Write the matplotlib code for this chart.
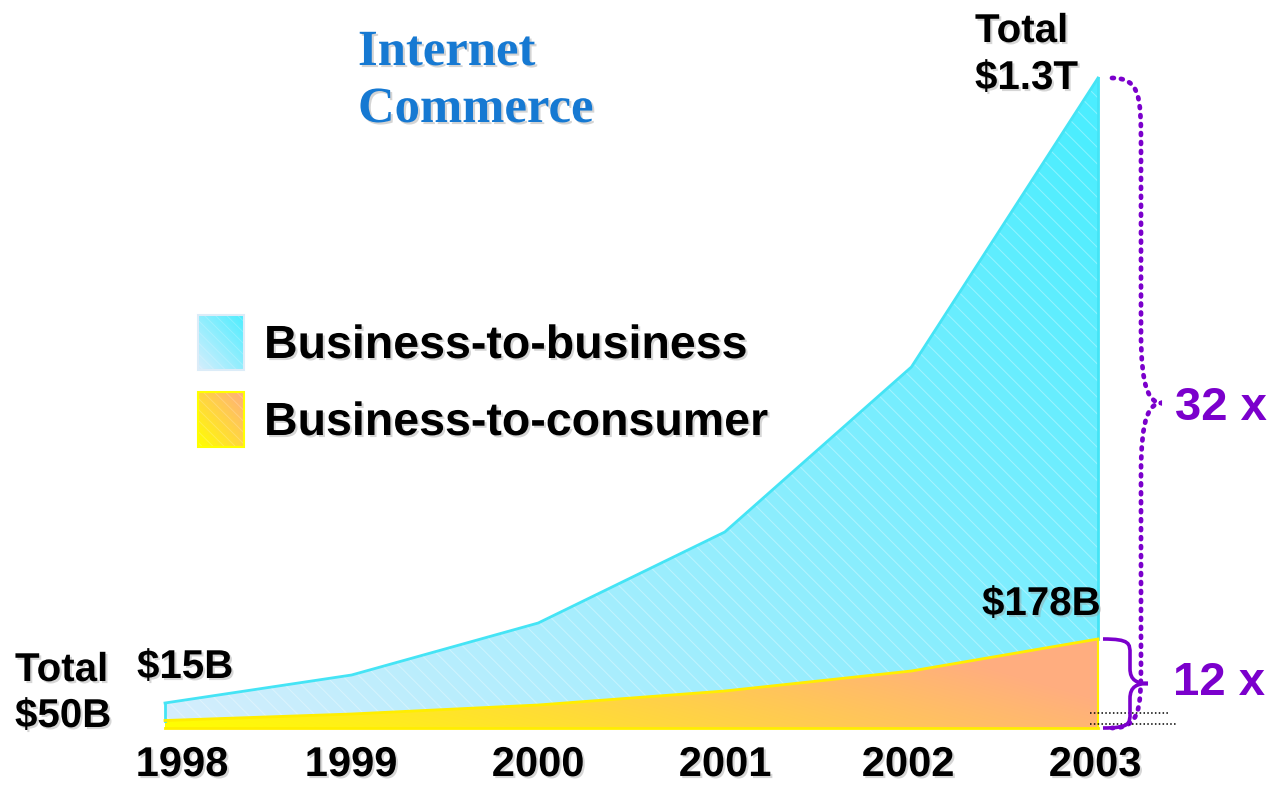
import numpy as np
import matplotlib.pyplot as plt
import matplotlib.patheffects as pe
from matplotlib.path import Path
from matplotlib.patches import PathPatch, Rectangle

# Internet commerce, $ billions
years = [1998, 1999, 2000, 2001, 2002, 2003]
total = [50, 106, 210, 392, 722, 1300]
b2c = [15, 28, 46, 74, 114, 178]
year_labels = ["1998", "1999", "2000", "2001", "2002", "2003"]
growth_b2b = "32 x"
growth_b2c = "12 x"

W, H = 1287, 787
X0, PX_YR = 165, 186.6     # pixel of 1998, pixels per year
Y0, PX_B = 728, 0.5        # baseline pixel, pixels per $B

PURPLE = "#7b00cc"
plt.rcParams['hatch.linewidth'] = 0.7
plt.rcParams['font.family'] = ['Liberation Sans', 'DejaVu Sans']

fig = plt.figure(figsize=(W / 100, H / 100), dpi=100)
ax = fig.add_axes([0, 0, 1, 1])
ax.set_xlim(1998 - X0 / PX_YR, 1998 + (W - X0) / PX_YR)
ax.set_ylim(-(H - Y0) / PX_B, Y0 / PX_B)
ax.axis("off")


def px(xp, yp):
    return 1998 + (xp - X0) / PX_YR, (Y0 - yp) / PX_B


def gradient(c0, c1, wx, wy, n=300):
    u, v = np.meshgrid(np.linspace(0, 1, n), np.linspace(0, 1, n))
    t = np.clip(wx * u + wy * v, 0, 1)[..., None]
    return (1 - t) * np.array(c0) + t * np.array(c1)


def gradient_fill(poly, img, extent, z):
    im = ax.imshow(img, extent=extent, origin="lower", aspect="auto",
                   interpolation="bilinear", zorder=z)
    im.set_clip_path(poly.get_paths()[0], transform=ax.transData)


shadow = [pe.SimplePatchShadow(offset=(1.5, -1.5), shadow_rgbFace="#999999", alpha=0.4),
          pe.Normal()]

b2b_pale, b2b_cyan = (0.84, 0.93, 0.99), (0.30, 0.93, 1.0)
b2c_yel, b2c_org = (1.0, 1.0, 0.0), (1.0, 0.68, 0.50)

# business-to-business band (stacked on top of b2c)
p1 = ax.fill_between(years, b2c, total, facecolor="none", linewidth=0)
gradient_fill(p1, gradient(b2b_pale, b2b_cyan, 0.6, 0.45), [1998, 2003, 0, max(total)], 1)
ax.fill_between(years, b2c, total, facecolor="none", edgecolor=(1, 1, 1, 0.35),
                hatch="\\\\", linewidth=0, zorder=2)

# business-to-consumer band
p2 = ax.fill_between(years, 0, b2c, facecolor="none", linewidth=0)
gradient_fill(p2, gradient(b2c_yel, b2c_org, 0.9, 0.3), [1998, 2003, 0, max(b2c)], 1)

ax.plot(years, total, color="#45e4f5", lw=2, zorder=3)
ax.plot([years[0]] * 2, [b2c[0], total[0]], color="#45e4f5", lw=2, zorder=3)
ax.plot([years[-1]] * 2, [b2c[-1], total[-1]], color="#45e4f5", lw=2, zorder=3)
ax.plot(years, b2c, color="#ffee00", lw=2, zorder=3)
ax.plot([years[0], years[-1]], [0, 0], color="#ffee00", lw=2, zorder=3)
ax.plot([years[-1]] * 2, [0, b2c[-1]], color="#ffee00", lw=1.5, zorder=3)


def brace(x0, xs, xt, y0, y1, d):
    ym = (y0 + y1) / 2
    verts = [(x0, y1),
             (xs, y1), (xs, y1 - 0.3 * d), (xs, y1 - d),
             (xs, ym + d),
             (xs, ym + 0.2 * d), (xs + 0.4 * (xt - xs), ym), (xt, ym),
             (xs + 0.4 * (xt - xs), ym), (xs, ym - 0.2 * d), (xs, ym - d),
             (xs, y0 + d),
             (xs, y0 + 0.3 * d), (xs, y0), (x0, y0)]
    codes = [Path.MOVETO] + [Path.CURVE4] * 3 + [Path.LINETO] + [Path.CURVE4] * 6 + \
            [Path.LINETO] + [Path.CURVE4] * 3
    return Path(verts, codes)


# 32x brace over the whole 2003 column, 12x brace over b2c
x_end = years[-1]
ax.add_patch(PathPatch(brace(x_end + 14 / PX_YR, x_end + 43 / PX_YR, x_end + 64 / PX_YR,
                             0, total[-1], 140),
                       fill=False, edgecolor=PURPLE, lw=3.4, linestyle=(0, (0.4, 1.5)),
                       capstyle="round", zorder=4))
ax.add_patch(PathPatch(brace(x_end + 5 / PX_YR, x_end + 32 / PX_YR, x_end + 50 / PX_YR,
                             0, b2c[-1], 30),
                       fill=False, edgecolor=PURPLE, lw=2.6, zorder=5))

# short dotted reference lines at the bottom right
for yp, xr in [(713, 1170), (724, 1176)]:
    xa, ya = px(1090, yp)
    xb, _ = px(xr, yp)
    ax.plot([xa, xb], [ya, ya], color="black", lw=1.1, linestyle=(0, (1, 1.5)), zorder=4)

# legend squares
for (top, bot), c0, c1, ec in [((315, 370), b2b_pale, b2b_cyan, "#dcecf8"),
                               ((392, 447), b2c_yel, b2c_org, "#ffff00")]:
    xa, ya = px(198, bot)
    xb, yb = px(244, top)
    ax.imshow(gradient(c0, c1, 0.5, 0.5, 50), extent=[xa, xb, ya, yb], origin="lower",
              aspect="auto", interpolation="bilinear", zorder=3)
    ax.add_patch(Rectangle((xa, ya), xb - xa, yb - ya, facecolor="none",
                           edgecolor=(1, 1, 1, 0.2), hatch="\\\\\\", lw=0, zorder=4))
    ax.add_patch(Rectangle((xa, ya), xb - xa, yb - ya, facecolor="none",
                           edgecolor=ec, lw=1.5, zorder=4))


def label(xp, yp, s, size, color="black", ha="left", family=None, fx=shadow):
    fig.text(xp / W, 1 - yp / H, s, fontsize=size, fontweight="bold", color=color,
             ha=ha, va="baseline", family=family, path_effects=fx)


title_fx = [pe.SimplePatchShadow(offset=(1.5, -1.5), shadow_rgbFace="#aaaaaa", alpha=0.5),
            pe.Normal()]
label(358, 65, "Internet", 36.5, color="#1679d2", family="Liberation Serif", fx=title_fx)
label(358, 122, "Commerce", 36.5, color="#1679d2", family="Liberation Serif", fx=title_fx)

label(975, 42, "Total", 29)
label(975, 89, "$1.3T", 29)
label(15, 681, "Total", 29)
label(15, 727, "$50B", 29)
label(137, 678, "$15B", 29)
label(982, 615, "$178B", 29)

label(264, 358, "Business-to-business", 33.5)
label(264, 435, "Business-to-consumer", 33.5)

label(1175, 420, growth_b2b, 34, color=PURPLE, fx=None)
label(1173, 695, growth_b2c, 34, color=PURPLE, fx=None)

year_px = [182, 351, 538, 725, 908, 1095]
for xp, s in zip(year_px, year_labels):
    label(xp, 776, s, 30, ha="center")

fig.savefig("out.png", dpi=100)
